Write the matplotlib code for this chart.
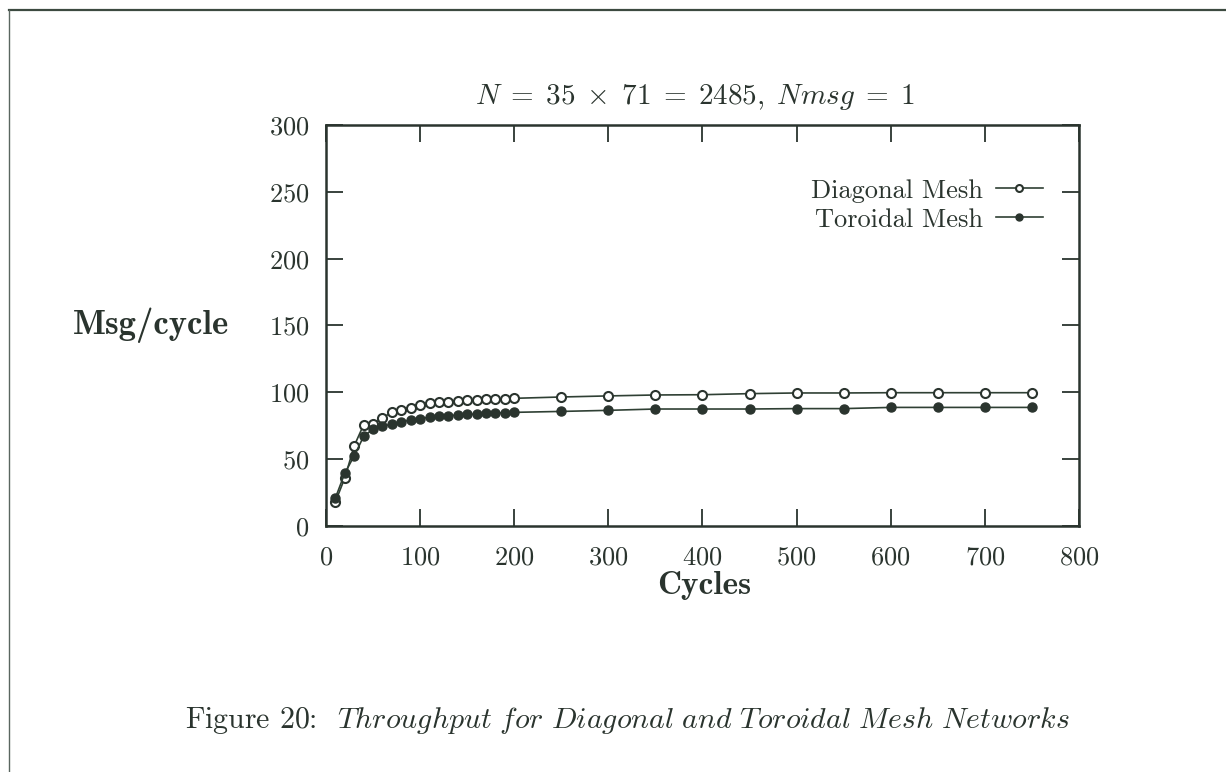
import matplotlib
matplotlib.use("Agg")
import matplotlib.pyplot as plt
from matplotlib.lines import Line2D

plt.rcParams["mathtext.fontset"] = "cm"
plt.rcParams["font.family"] = "cmr10"
plt.rcParams["axes.formatter.use_mathtext"] = True

# Cycles sampled
cycles = [10, 20, 30, 40, 50, 60, 70, 80, 90, 100, 110, 120, 130, 140, 150,
          160, 170, 180, 190, 200, 250, 300, 350, 400, 450, 500, 550, 600,
          650, 700, 750]

# Throughput (messages per cycle)
diagonal = [18, 36, 60, 75.7, 76, 81, 85, 86.5, 88.5, 90.5, 91.7, 92.5, 93,
            93.7, 94, 94.5, 94.7, 95, 95, 95.5, 96.5, 97.3, 98, 98.2, 99,
            99.5, 99.5, 99.7, 99.7, 99.7, 99.7]
toroidal = [21, 39.5, 52.5, 67, 72.5, 74.5, 76.3, 77.8, 79.3, 80.3, 81.3, 82,
            82.5, 83, 83.5, 83.7, 84.2, 84.5, 84.7, 85, 85.7, 86.5, 87.5, 87.5,
            87.5, 87.8, 87.8, 88.7, 88.7, 88.7, 88.7]

x_ticks = [0, 100, 200, 300, 400, 500, 600, 700, 800]
y_ticks = [0, 50, 100, 150, 200, 250, 300]

ink = "#2a342e"
line_col = "#2f4034"

fig = plt.figure(figsize=(12.26, 7.72), dpi=100)
fig.patch.set_facecolor("white")

# page frame (top and left rules)
fig.add_artist(Line2D([0.007, 1.0], [0.987, 0.987], transform=fig.transFigure,
                      color="#3c4a40", lw=1.6))
fig.add_artist(Line2D([0.007, 0.007], [0.0, 0.987], transform=fig.transFigure,
                      color="#5a6660", lw=1.0))

ax = fig.add_axes([0.2659, 0.3187, 0.6142, 0.5194])

ax.plot(cycles, diagonal, color=line_col, lw=1.2, marker="o", ms=6.5,
        mfc="white", mec=ink, mew=1.5, label="Diagonal Mesh")
ax.plot(cycles, toroidal, color=line_col, lw=1.2, marker="o", ms=6.5,
        mfc=ink, mec=ink, mew=1.0, label="Toroidal Mesh")

ax.set_xlim(0, 800)
ax.set_ylim(0, 300)
ax.set_xticks(x_ticks)
ax.set_yticks(y_ticks)
ax.tick_params(direction="in", length=12, width=1.3, colors=ink,
               top=True, right=True, labelsize=19)
ax.tick_params(axis="x", pad=14)
ax.tick_params(axis="y", pad=12)
for lab in ax.get_xticklabels() + ax.get_yticklabels():
    lab.set_color(ink)
for s in ax.spines.values():
    s.set_color(ink)
    s.set_linewidth(1.8)

ax.set_xlabel("Cycles", fontfamily="cmb10", fontsize=24, color=ink)
ax.xaxis.set_label_coords(0.502, -0.148)
ax.xaxis.label.set_va("center")
ax.set_ylabel("Msg/cycle", fontfamily="cmb10", fontsize=25, color=ink,
              rotation=0, ha="center", va="center")
ax.yaxis.set_label_coords(-0.232, 0.5)

ax.text(0.49, 1.07,
        r"$N\;=\;35\;\times\;71\;=\;2485,\;Nmsg\;=\;1$",
        transform=ax.transAxes, ha="center", va="center", fontsize=21,
        color=ink)

leg = ax.legend(loc="upper right", bbox_to_anchor=(0.984, 0.925),
                frameon=False, markerfirst=False, numpoints=1,
                handlelength=1.8, handletextpad=0.5, labelspacing=0.2,
                fontsize=19)
for t in leg.get_texts():
    t.set_color(ink)
for h in leg.legend_handles:
    h.set_markersize(5)

fig.text(0.512, 0.067,
         r"Figure 20:  $\mathit{Throughput\ for\ Diagonal\ and\ Toroidal\ Mesh\ Networks}$",
         ha="center", va="center", fontsize=21.5, color=ink)

fig.savefig("out.png", dpi=100, facecolor="white")
